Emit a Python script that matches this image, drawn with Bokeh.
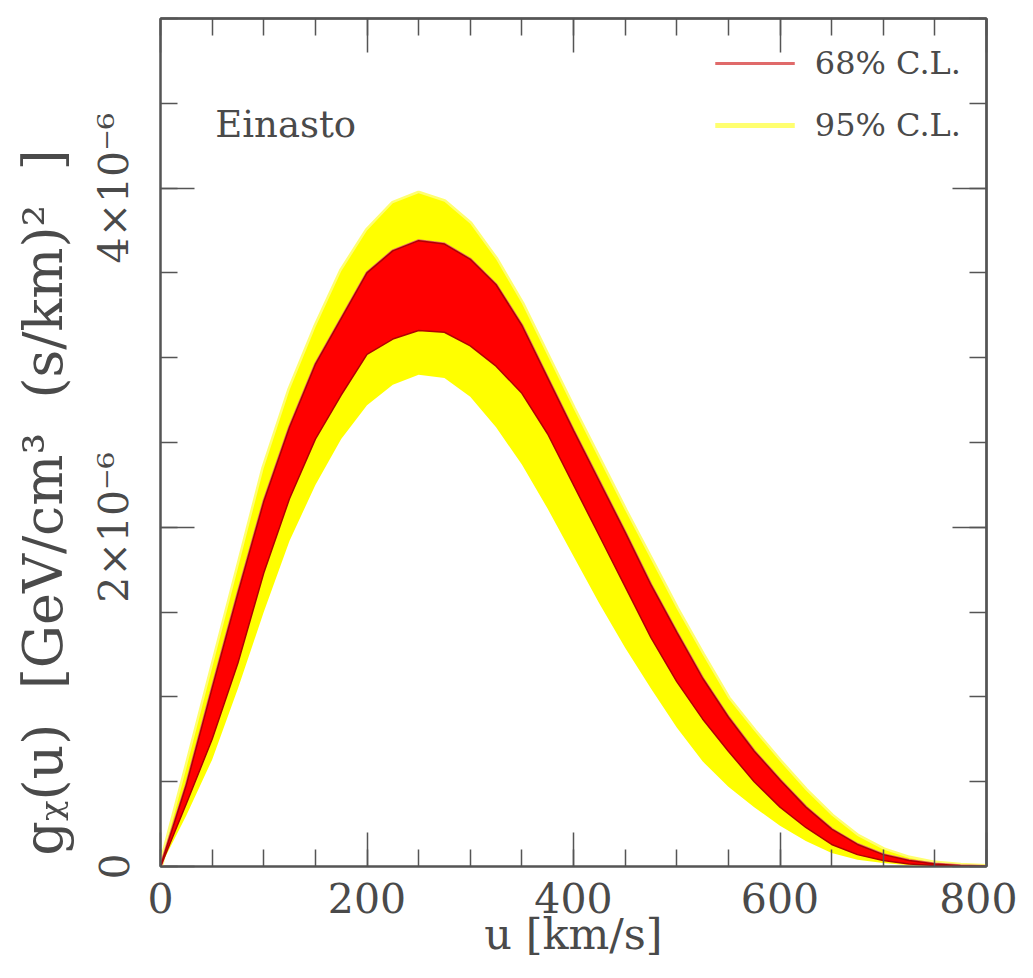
from bokeh.plotting import figure
from bokeh.models import Range1d, FixedTicker, LinearAxis, Label, Legend, LegendItem, ColumnDataSource
from bokeh.embed import file_html
from bokeh.resources import INLINE

# velocity grid [km/s]
u = [0, 25, 50, 75, 100, 125, 150, 175, 200, 225, 250, 275, 300, 325, 350, 375, 400,
     425, 450, 475, 500, 525, 550, 575, 600, 625, 650, 675, 700, 725, 750, 775, 800]
# g_chi(u) band edges, in units of 1e-6 GeV/cm^3 (s/km)^2
yellow_hi = [0, 0.58, 1.17, 1.76, 2.35, 2.81, 3.18, 3.51, 3.75, 3.91, 3.97, 3.92, 3.79, 3.58, 3.32, 3.01, 2.70,
             2.40, 2.10, 1.81, 1.52, 1.25, 0.99, 0.80, 0.62, 0.45, 0.30, 0.18, 0.10, 0.05, 0.02, 0.007, 0]
red_hi = [0, 0.48, 1.05, 1.61, 2.15, 2.59, 2.96, 3.23, 3.50, 3.63, 3.69, 3.67, 3.58, 3.43, 3.19, 2.88, 2.57,
          2.27, 1.97, 1.66, 1.38, 1.11, 0.88, 0.68, 0.51, 0.35, 0.22, 0.13, 0.07, 0.035, 0.015, 0.005, 0]
red_lo = [0, 0.37, 0.75, 1.20, 1.73, 2.17, 2.52, 2.78, 3.02, 3.11, 3.16, 3.15, 3.07, 2.95, 2.79, 2.55, 2.25,
          1.95, 1.65, 1.35, 1.09, 0.87, 0.68, 0.50, 0.35, 0.23, 0.13, 0.07, 0.035, 0.015, 0.006, 0.002, 0]
yellow_lo = [0, 0.30, 0.63, 1.05, 1.50, 1.92, 2.25, 2.52, 2.72, 2.84, 2.90, 2.88, 2.77, 2.59, 2.37, 2.11, 1.83,
             1.55, 1.29, 1.05, 0.82, 0.62, 0.47, 0.35, 0.24, 0.15, 0.08, 0.04, 0.02, 0.008, 0.003, 0.001, 0]

x_major = [0, 200, 400, 600, 800]
x_minor = list(range(0, 801, 50))
y_major = [0, 2, 4]
y_minor = [i * 0.5 for i in range(11)]
y_tick_labels = {0: "0", 2: "2×10⁻⁶", 4: "4×10⁻⁶"}
x_title = "u [km/s]"
NB = "\u00a0"
y_title = "gᵪ(u)" + NB + " [GeV/cm³" + NB + " (s/km)²" + NB + " ]" + NB * 7
legend_labels = ["68% C.L.", "95% C.L."]
model_name = "Einasto"

FONT = "DejaVu Serif"
AX = "#555555"
TXT = "#4a4a4a"

p = figure(width=1017, height=962, output_backend="svg", toolbar_location=None,
           x_range=Range1d(0, 800), y_range=Range1d(0, 5),
           min_border_left=160, min_border_right=31, min_border_top=18, min_border_bottom=96)
p.xgrid.visible = False
p.ygrid.visible = False
p.background_fill_color = "white"
p.border_fill_color = "white"
p.outline_line_color = AX
p.outline_line_width = 2

src = ColumnDataSource(dict(u=u, yh=yellow_hi, yl=yellow_lo, rh=red_hi, rl=red_lo))
l95 = p.line(x="u", y="yh", source=src, line_color="#ffff70", line_width=5)
p.varea(x="u", y1="yl", y2="yh", source=src, fill_color="#ffff00")
l68 = p.line(x="u", y="rh", source=src, line_color="#e06a6a", line_width=3)
p.varea(x="u", y1="rl", y2="rh", source=src, fill_color="#ff0000")
p.line(x="u", y="rh", source=src, line_color="#b00000", line_width=1.5)
p.line(x="u", y="rl", source=src, line_color="#b00000", line_width=1.5)


def style_axis(ax):
    ax.axis_line_color = AX
    ax.axis_line_width = 2
    ax.major_tick_line_color = AX
    ax.minor_tick_line_color = AX
    ax.major_tick_line_width = 1.5
    ax.minor_tick_line_width = 1.5
    ax.major_tick_in = 34
    ax.major_tick_out = 0
    ax.minor_tick_in = 17
    ax.minor_tick_out = 0


xa = p.xaxis[0]
xa.ticker = FixedTicker(ticks=x_major, minor_ticks=x_minor)
style_axis(xa)
xa.major_label_text_font = FONT
xa.major_label_text_font_size = "41px"
xa.major_label_text_color = TXT
xa.major_label_standoff = 16
xa.axis_label = x_title
xa.axis_label_text_font = FONT
xa.axis_label_text_font_size = "43px"
xa.axis_label_text_font_style = "normal"
xa.axis_label_text_color = TXT
xa.axis_label_standoff = -7

ya = p.yaxis[0]
ya.ticker = FixedTicker(ticks=y_major, minor_ticks=y_minor)
style_axis(ya)
ya.major_label_text_font = FONT
ya.major_label_text_font_size = "41px"
ya.major_label_text_color = TXT
ya.major_label_overrides = y_tick_labels
ya.major_label_orientation = "vertical"
ya.major_label_standoff = 22
ya.axis_label = y_title
ya.axis_label_text_font = FONT
ya.axis_label_text_font_size = "54px"
ya.axis_label_text_font_style = "normal"
ya.axis_label_text_color = TXT
ya.axis_label_standoff = 13

# mirrored tick marks on the top and right edges (no labels)
for side, major, minor in (("above", x_major, x_minor), ("right", y_major, y_minor)):
    for ticks, length in ((minor, 17), (major, 34)):
        ax = LinearAxis(ticker=FixedTicker(ticks=[], minor_ticks=ticks))
        style_axis(ax)
        ax.minor_tick_in = length
        ax.major_label_standoff = 0
        p.add_layout(ax, side)

# model name
p.add_layout(Label(x=53, y=4.375, text=model_name, text_font=FONT, text_font_size="37px",
                   text_color=TXT, text_align="left", text_baseline="middle"))

legend = Legend(items=[LegendItem(label=legend_labels[0], renderers=[l68]),
                       LegendItem(label=legend_labels[1], renderers=[l95])],
                location="top_right", border_line_color=None, background_fill_alpha=0,
                label_text_font=FONT, label_text_font_size="32px", label_text_color=TXT,
                glyph_width=80, glyph_height=40, label_height=40, spacing=22,
                padding=0, margin=25, label_standoff=20)
p.add_layout(legend)

open("out.html", "w").write(file_html(p, INLINE))
